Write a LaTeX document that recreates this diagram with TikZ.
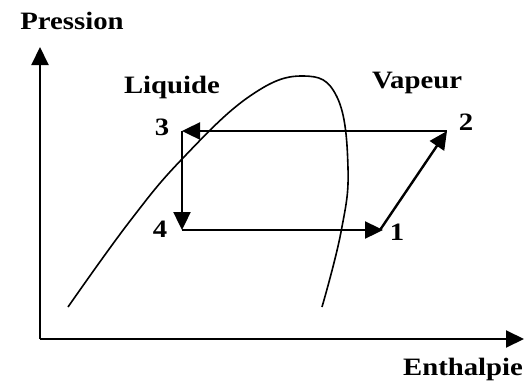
\documentclass[tikz,border=0pt]{standalone}
\usepackage{fontspec}
\setmainfont{Liberation Serif}
\usetikzlibrary{arrows.meta}

\begin{document}
\begin{tikzpicture}[x=1pt,y=-1pt,
		lbl/.style={font=\bfseries\fontsize{25}{28}\selectfont, xscale=1.15, anchor=base, inner sep=0pt},
		axe/.style={line width=2pt, -{Triangle[length=18pt,width=17pt]}},
		cyc/.style={line width=2.4pt, -{Triangle[length=18pt,width=17pt]}}]
			\useasboundingbox (0,0) rectangle (525,383);
			% axes
			\coordinate (o) at (40,339);
			\coordinate (ytip) at (40,47);
			\coordinate (xtip) at (524,339);
			\draw[axe] (o) -- (ytip);
			\draw[axe] (o) -- (xtip);
			\node[lbl] (pr) at (72,29) {Pression};
			\node[lbl] (en) at (463,375) {Enthalpie};
			% courbe de saturation
			\draw[line width=1.6pt] plot[smooth, tension=0.7] coordinates {(68,307) (130,221) (183,158) (250,96) (303,76) (337,97) (348,168) (341,232) (322,307)};
			\node[lbl] (liq) at (172,93) {Liquide};
			\node[lbl] (vap) at (417,88) {Vapeur};
			% cycle
			\coordinate (c1) at (383,230);
			\coordinate (c2) at (447,131);
			\coordinate (c3) at (182,131);
			\coordinate (c4) at (182,230);
			\draw[cyc] (c2) -- (c3);
			\draw[cyc] (c3) -- (c4);
			\draw[cyc] (c4) -- (c1);
			\draw[cyc] (380,230) -- (c2);
			\node[lbl] (n1) at (397,240) {1};
			\node[lbl] (n2) at (466,130) {2};
			\node[lbl] (n3) at (162,135) {3};
			\node[lbl] (n4) at (160,237) {4};
		\end{tikzpicture}
\end{document}
